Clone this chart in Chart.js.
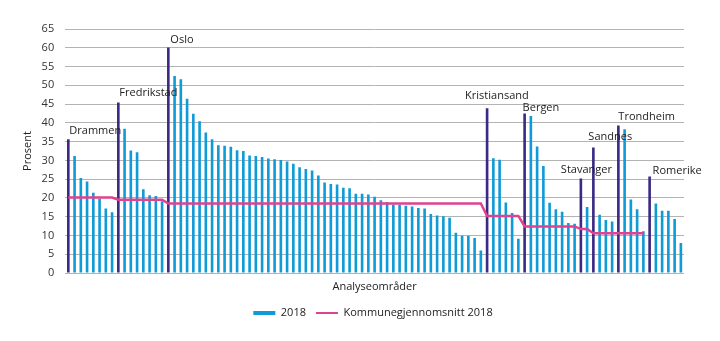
<!DOCTYPE html>
<html>
<head>
<meta charset="utf-8">
<script src="https://cdn.jsdelivr.net/npm/chart.js@4/dist/chart.umd.min.js"></script>
<style>
  html, body { margin: 0; padding: 0; background: #fff; }
  #wrap { width: 720px; height: 341px; }
</style>
</head>
<body>
<div id="wrap"><canvas id="myChart" width="720" height="341"></canvas></div>
<script>
// Andel (prosent) per analyseområde, 2018 – første stolpe i hver gruppe er kommunen/byen
const andel2018 = [
  35.6, 31.2, 25.3, 24.4, 21.4, 19.8, 17.2, 16.2,                      // Drammen
  45.4, 38.4, 32.6, 32.2, 22.3, 20.7, 20.5, 19.1,                      // Fredrikstad
  60.1, 52.5, 51.6, 46.4, 42.4, 40.4, 37.4, 35.6, 34.0, 33.9,          // Oslo
  33.6, 32.7, 32.5, 31.3, 31.2, 30.9, 30.5, 30.3, 30.1, 29.7,
  29.1, 28.2, 27.7, 27.3, 26.0, 24.1, 23.7, 23.6, 22.7, 22.6,
  21.1, 21.1, 20.9, 20.3, 19.4, 18.9, 18.2, 18.2, 17.9, 17.7,
  17.3, 17.2, 15.7, 15.3, 15.1, 14.7, 10.7, 9.9, 9.9, 9.3, 6.0,
  43.9, 30.6, 30.2, 18.8, 16.0, 9.1,                                   // Kristiansand
  42.5, 41.8, 33.7, 28.5, 18.7, 17.0, 16.3, 13.3, 13.1,                // Bergen
  25.2, 17.6,                                                          // Stavanger
  33.4, 15.5, 14.1, 13.7,                                              // Sandnes
  39.3, 38.3, 19.6, 17.0, 11.1,                                        // Trondheim
  25.7, 18.5, 16.6, 16.6, 14.4, 8.0                                    // Romerike
];

// Kommunegjennomsnitt 2018 for hvert analyseområde (ingen linje for Romerike)
const kommunesnitt2018 = [
  20.1, 20.1, 20.1, 20.1, 20.1, 20.1, 20.1, 20.1,
  19.5, 19.5, 19.5, 19.5, 19.5, 19.5, 19.5, 19.5,
  18.5, 18.5, 18.5, 18.5, 18.5, 18.5, 18.5, 18.5, 18.5, 18.5,
  18.5, 18.5, 18.5, 18.5, 18.5, 18.5, 18.5, 18.5, 18.5, 18.5,
  18.5, 18.5, 18.5, 18.5, 18.5, 18.5, 18.5, 18.5, 18.5, 18.5,
  18.5, 18.5, 18.5, 18.5, 18.5, 18.5, 18.5, 18.5, 18.5, 18.5,
  18.5, 18.5, 18.5, 18.5, 18.5, 18.5, 18.5, 18.5, 18.5, 18.5, 18.5,
  15.2, 15.2, 15.2, 15.2, 15.2, 15.2,
  12.4, 12.4, 12.4, 12.4, 12.4, 12.4, 12.4, 12.4, 12.4,
  11.7, 11.7,
  10.6, 10.6, 10.6, 10.6,
  10.6, 10.6, 10.6, 10.6, 10.6,
  null, null, null, null, null, null
];

// Byene og hvilken stolpe som er byens egen
const byer = ['Drammen', 'Fredrikstad', 'Oslo', 'Kristiansand', 'Bergen', 'Stavanger', 'Sandnes', 'Trondheim', 'Romerike'];
const byIndeks = [0, 8, 16, 67, 73, 82, 84, 88, 93];

const yTicks = [0, 5, 10, 15, 20, 25, 30, 35, 40, 45, 50, 55, 60, 65];

// kategorier (ingen tekst vises på x-aksen)
const omrader = andel2018.map((v, i) => {
  const b = byIndeks.indexOf(i);
  return b >= 0 ? byer[b] : 'Område ' + (i + 1);
});

const BLA = '#0f9bd7';
const MORK = '#3a2a85';
const ROSA = '#df428e';
const FONT = "'Open Sans', 'Noto Sans', sans-serif";

const barColors = andel2018.map((v, i) => byIndeks.includes(i) ? MORK : BLA);

// tekstplassering for bynavn relativt til stolpen (piksler)
const navnDx = [1, 1, 2, -22, -2, -20, -5, 0, 3];
const navnDy = [9, 10, 8, 12, 6, 9, 11, 9, 6];

const bynavnPlugin = {
  id: 'bynavn',
  afterDatasetsDraw(chart) {
    const c = chart.ctx;
    const xs = chart.scales.x, ys = chart.scales.y;
    c.save();
    c.font = '11px ' + FONT;
    c.fillStyle = '#222';
    c.textAlign = 'left';
    c.textBaseline = 'middle';
    byer.forEach((navn, k) => {
      const i = byIndeks[k];
      const x = xs.getPixelForValue(i) + navnDx[k];
      const y = ys.getPixelForValue(andel2018[i]) - navnDy[k];
      c.fillText(navn, x, y);
    });
    c.restore();
  }
};

// flytt forklaringen litt mot høyre, som i originalen
const legendeFlytt = {
  id: 'legendeFlytt',
  afterLayout(chart) {
    chart.legend.left += 31;
    chart.legend.right += 31;
  }
};

const ctx = document.getElementById('myChart').getContext('2d');

new Chart(ctx, {
  data: {
    labels: omrader,
    datasets: [
      {
        type: 'line',
        label: 'Kommunegjennomsnitt 2018',
        data: kommunesnitt2018,
        borderColor: ROSA,
        backgroundColor: ROSA,
        borderWidth: 2.5,
        pointRadius: 0,
        tension: 0,
        spanGaps: false,
        order: 0
      },
      {
        type: 'bar',
        label: '2018',
        data: andel2018,
        backgroundColor: barColors,
        categoryPercentage: 1,
        barPercentage: 0.42,
        order: 1
      }
    ]
  },
  plugins: [bynavnPlugin, legendeFlytt],
  options: {
    responsive: false,
    animation: false,
    layout: { padding: { top: 29, right: 36, bottom: 12.5, left: 0 } },
    plugins: {
      tooltip: { enabled: false },
      legend: {
        position: 'bottom',
        labels: {
          font: { family: FONT, size: 11 },
          color: '#222',
          usePointStyle: true,
          pointStyleWidth: 22,
          boxHeight: 11,
          padding: 10,
          generateLabels(chart) {
            // stolper først, deretter linjen
            return [
              { text: '2018', pointStyle: 'line', strokeStyle: BLA, fillStyle: BLA, lineWidth: 4, datasetIndex: 1, hidden: false, fontColor: '#222' },
              { text: 'Kommunegjennomsnitt 2018', pointStyle: 'line', strokeStyle: ROSA, fillStyle: ROSA, lineWidth: 2, datasetIndex: 0, hidden: false, fontColor: '#222' }
            ];
          }
        }
      }
    },
    scales: {
      x: {
        grid: { display: false },
        border: { display: false },
        ticks: { display: false },
        title: {
          display: true,
          text: 'Analyseområder',
          color: '#222',
          font: { family: FONT, size: 11 },
          padding: { top: 0, bottom: 4 }
        },
        afterFit(scale) { scale.height = 24.5; }
      },
      y: {
        min: 0,
        max: 65,
        afterBuildTicks(scale) { scale.ticks = yTicks.map(v => ({ value: v })); },
        grid: { color: '#b3b3b3', lineWidth: 1, drawTicks: false },
        border: { display: false },
        ticks: {
          color: '#333',
          font: { family: FONT, size: 11 },
          padding: 11
        },
        title: {
          display: true,
          text: 'Prosent',
          color: '#222',
          font: { family: FONT, size: 11 },
          padding: { top: 21, bottom: 0 }
        },
        afterFit(scale) { scale.width = 65.2; }
      }
    }
  }
});
</script>
</body>
</html>
